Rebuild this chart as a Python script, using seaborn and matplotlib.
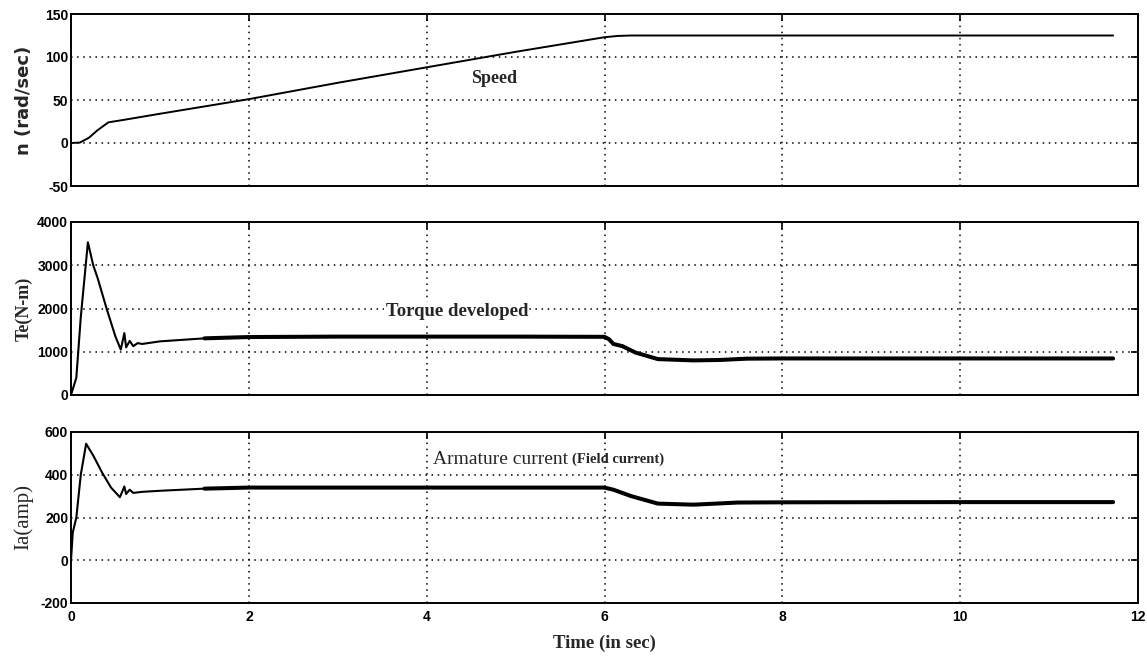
import numpy as np
import pandas as pd
import matplotlib
matplotlib.use("Agg")
import matplotlib.pyplot as plt
import seaborn as sns

# ---------------- data ----------------
speed_t = [0.0, 0.1, 0.2, 0.3, 0.42, 0.6, 1.0, 2.0, 3.0, 4.0, 5.0, 6.0, 6.15, 6.3, 8.0, 10.0, 11.72]
speed_n = [0.0, 0.5, 6.0, 15.0, 24.0, 27.0, 34.0, 51.0, 70.0, 88.0, 106.0, 123.0, 124.5, 125.0, 125.0, 125.0, 125.0]

torque_t = [0.0, 0.03, 0.06, 0.11, 0.19, 0.25, 0.3, 0.4, 0.5, 0.56, 0.6, 0.62, 0.66, 0.7, 0.75,
            0.8, 1.0, 1.5, 2.0, 3.0, 4.0, 5.0, 6.0, 6.05, 6.1, 6.2, 6.35, 6.6, 7.0, 7.3, 7.6, 8.0, 10.0, 11.72]
torque_v = [0.0, 200.0, 400.0, 1800.0, 3530.0, 3000.0, 2700.0, 2000.0, 1350.0, 1050.0, 1430.0, 1100.0,
            1250.0, 1130.0, 1200.0, 1180.0, 1240.0, 1310.0, 1340.0, 1350.0, 1350.0, 1350.0, 1345.0,
            1290.0, 1180.0, 1130.0, 980.0, 830.0, 800.0, 810.0, 840.0, 845.0, 845.0, 845.0]

current_t = [0.0, 0.02, 0.06, 0.11, 0.17, 0.25, 0.35, 0.45, 0.55, 0.6, 0.62, 0.66, 0.7, 0.8, 1.0,
             1.5, 2.0, 3.0, 4.0, 5.0, 6.0, 6.1, 6.3, 6.6, 7.0, 7.5, 8.0, 10.0, 11.72]
current_v = [0.0, 130.0, 200.0, 400.0, 545.0, 490.0, 410.0, 340.0, 295.0, 345.0, 310.0, 330.0, 315.0,
             320.0, 325.0, 335.0, 340.0, 340.0, 340.0, 340.0, 340.0, 330.0, 300.0, 265.0, 260.0,
             270.0, 271.0, 272.0, 272.0]

x_ticks = [0, 2, 4, 6, 8, 10, 12]
speed_ticks = [-50, 0, 50, 100, 150]
torque_ticks = [0, 1000, 2000, 3000, 4000]
current_ticks = [-200, 0, 200, 400, 600]

speed_df = pd.DataFrame({"t": speed_t, "v": speed_n})
torque_df = pd.DataFrame({"t": torque_t, "v": torque_v})
current_df = pd.DataFrame({"t": current_t, "v": current_v})

# ---------------- style ----------------
sns.set_style("white")
plt.rcParams["font.family"] = ["Liberation Serif", "DejaVu Serif"]
plt.rcParams["axes.unicode_minus"] = False
tick_font = ["Liberation Sans Narrow", "Liberation Sans", "DejaVu Sans"]

fig = plt.figure(figsize=(11.47, 6.63), dpi=100)
W, H = 1147.0, 663.0
left, right = 71 / W, 1138 / W
panels = [(14, 186), (222, 395), (432, 603)]
axes = []
for top, bot in panels:
    ax = fig.add_axes([left, 1 - bot / H, right - left, (bot - top) / H])
    axes.append(ax)

lab_x = (33 - 71) / (1138 - 71)

def style(ax, yticks, show_x):
    ax.set_xlim(0, 12)
    ax.set_ylim(yticks[0], yticks[-1])
    ax.set_xticks(x_ticks)
    ax.set_yticks(yticks)
    ax.grid(True, color="black", linestyle=(0, (1, 3)), linewidth=1.1)
    ax.tick_params(direction="in", length=5, width=1.2, top=True, right=True,
                   labelsize=10, colors="black")
    ax.tick_params(axis="x", pad=5)
    ax.tick_params(axis="y", pad=2)
    for lab in ax.get_yticklabels() + ax.get_xticklabels():
        lab.set_family(tick_font)
        lab.set_fontweight("bold")
    if not show_x:
        ax.set_xticklabels([])
    for s in ax.spines.values():
        s.set_color("black")
        s.set_linewidth(1.4)
    ax.set_xlabel("")

# Speed
ax = axes[0]
sns.lineplot(data=speed_df, x="t", y="v", ax=ax, color="black", linewidth=1.4,
             estimator=None, sort=False)
style(ax, speed_ticks, False)
ax.set_ylabel("n (rad/sec)", fontsize=13, fontweight="bold", family=["DejaVu Sans"])
ax.yaxis.set_label_coords(lab_x, 0.5)
ax.text(4.76, 75, "Speed", fontsize=13, fontweight="bold", ha="center", va="center")

# Torque
ax = axes[1]
sns.lineplot(data=torque_df[torque_df.t <= 1.5], x="t", y="v", ax=ax, color="black",
             linewidth=1.5, estimator=None, sort=False)
sns.lineplot(data=torque_df[torque_df.t >= 1.5], x="t", y="v", ax=ax, color="black",
             linewidth=2.9, estimator=None, sort=False)
style(ax, torque_ticks, False)
ax.set_ylabel("Te(N-m)", fontsize=13, fontweight="bold")
ax.yaxis.set_label_coords(lab_x, 0.5)
ax.text(4.34, 1920, "Torque developed", fontsize=13.5, fontweight="bold", ha="center",
        va="center", bbox=dict(facecolor="white", edgecolor="none", pad=1))

# Armature current
ax = axes[2]
sns.lineplot(data=current_df[current_df.t <= 1.5], x="t", y="v", ax=ax, color="black",
             linewidth=1.5, estimator=None, sort=False)
sns.lineplot(data=current_df[current_df.t >= 1.5], x="t", y="v", ax=ax, color="black",
             linewidth=2.9, estimator=None, sort=False)
style(ax, current_ticks, True)
ax.set_ylabel("Ia(amp)", fontsize=15)
ax.yaxis.set_label_coords(lab_x, 0.5)
ax.text(4.07, 470, "Armature current", fontsize=14, ha="left", va="center")
ax.text(5.63, 472, "(Field current)", fontsize=10.5, fontweight="bold", ha="left", va="center")
ax.set_xlabel("Time (in sec)", fontsize=13.5, fontweight="bold", labelpad=8)

fig.savefig("out.png", dpi=100)
